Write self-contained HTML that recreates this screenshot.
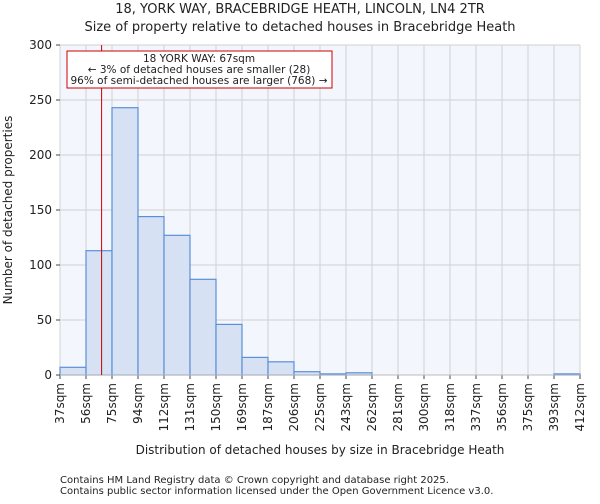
<!DOCTYPE html>
<html><head><meta charset="utf-8"><style>
body{margin:0;background:#fff;font-family:"DejaVu Sans","Liberation Sans",sans-serif;}
svg text{font-family:"DejaVu Sans","Liberation Sans",sans-serif;fill:#222;}
</style></head><body>
<svg id="chart" width="600" height="500" viewBox="0 0 600 500" xmlns="http://www.w3.org/2000/svg">
<text x="300" y="13" font-size="13" text-anchor="middle">18, YORK WAY, BRACEBRIDGE HEATH, LINCOLN, LN4 2TR</text>
<text x="300" y="31" font-size="13" text-anchor="middle">Size of property relative to detached houses in Bracebridge Heath</text>
<rect x="60" y="45" width="520" height="330" fill="#f4f6fe"/>
<g id="grid"></g>
<g id="bars"></g>
<g id="axes"></g>
<line id="marker" stroke="#cc0000" stroke-width="1"/>
<rect x="67" y="51" width="265" height="37" fill="#fff" stroke="#cc0000" stroke-width="1"/>
<text x="199" y="62" font-size="10.5" text-anchor="middle">18 YORK WAY: 67sqm</text>
<text x="199" y="73" font-size="10.5" text-anchor="middle">← 3% of detached houses are smaller (28)</text>
<text x="199" y="84" font-size="10.5" text-anchor="middle">96% of semi-detached houses are larger (768) →</text>
<text transform="translate(12,210) rotate(-90)" font-size="12" text-anchor="middle">Number of detached properties</text>
<text x="320" y="454" font-size="12" text-anchor="middle">Distribution of detached houses by size in Bracebridge Heath</text>
<text x="60" y="483" font-size="10" fill="#444">Contains HM Land Registry data © Crown copyright and database right 2025.</text>
<text x="60" y="494" font-size="10" fill="#444">Contains public sector information licensed under the Open Government Licence v3.0.</text>
</svg>
<script>
const binLabels=["37sqm","56sqm","75sqm","94sqm","112sqm","131sqm","150sqm","169sqm","187sqm","206sqm","225sqm","243sqm","262sqm","281sqm","300sqm","318sqm","337sqm","356sqm","375sqm","393sqm","412sqm"];
const binEdges=[37,55.75,74.5,93.25,112,130.75,149.5,168.25,187,205.75,224.5,243.25,262,280.75,299.5,318.25,337,355.75,374.5,393.25,412];
const counts=[7,113,243,144,127,87,46,16,12,3,1,2,0,0,0,0,0,0,0,1];
const yTicks=[0,50,100,150,200,250,300];
const markerValue=67;
const NS="http://www.w3.org/2000/svg";
const X0=60,X1=580,Y0=375,Y1=45;
const xs=v=>X0+(v-binEdges[0])/(binEdges[binEdges.length-1]-binEdges[0])*(X1-X0);
const ys=v=>Y0-(v/300)*(Y0-Y1);
function mk(tag,attrs,parent){const e=document.createElementNS(NS,tag);for(const k in attrs)e.setAttribute(k,attrs[k]);document.getElementById(parent).appendChild(e);return e;}
yTicks.forEach(t=>{const l=mk('line',{x1:X0,x2:X1,y1:ys(t),y2:ys(t),stroke:'#d0d0d0'},'grid');


const tk=mk('line',{x1:X0-4,x2:X0,y1:ys(t),y2:ys(t),stroke:'#444'},'axes');


const tx=mk('text',{x:X0-8,y:ys(t)+4,'font-size':12,'text-anchor':'end'},'axes');tx.textContent=t;

});
binEdges.forEach((e,i)=>{const x=xs(e);const l=mk('line',{x1:x,x2:x,y1:Y1,y2:Y0,stroke:'#d0d0d0'},'grid');


const tk=mk('line',{x1:x,x2:x,y1:Y0,y2:Y0+4,stroke:'#444'},'axes');


const tx=mk('text',{transform:`translate(${x+4},${Y0+8}) rotate(-90)`,'font-size':12,'text-anchor':'end'},'axes');tx.textContent=binLabels[i];

});
counts.forEach((c,i)=>{if(c<=0)return;const x=xs(binEdges[i]),w=xs(binEdges[i+1])-x;
const r=mk('rect',{x:x,y:ys(c),width:w,height:Y0-ys(c),fill:'#d6e1f4',stroke:'#5b8fd6','stroke-width':1.2},'bars');

});
const ax=mk('line',{x1:X0,x2:X1,y1:Y0,y2:Y0,stroke:'#bbb'},'axes');


const m=document.getElementById('marker');const mx=xs(markerValue);
m.setAttribute('x1',mx);m.setAttribute('x2',mx);m.setAttribute('y1',Y1);m.setAttribute('y2',Y0);
</script>
</body></html>
